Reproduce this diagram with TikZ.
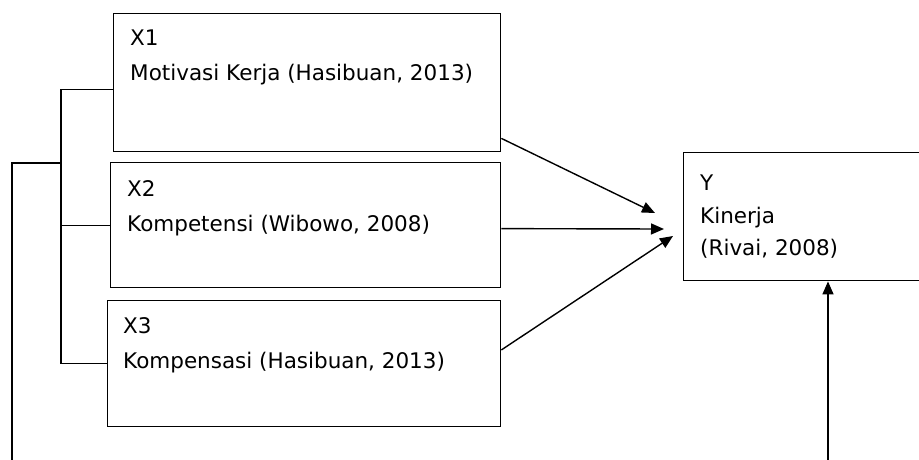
\documentclass[tikz,border=0pt]{standalone}
\usepackage{fontspec}
\setmainfont{DejaVu Sans}
\usetikzlibrary{arrows.meta}
\begin{document}
\begin{tikzpicture}[x=1pt,y=-1pt,
  box/.style={draw,line width=1.4pt,inner sep=0pt,anchor=north west},
  lbl/.style={anchor=north west,align=left,inner sep=0pt,
    font=\fontsize{21.5}{35}\selectfont},
  link/.style={line width=1.4pt},
  arr/.style={line width=1.4pt,-{Triangle[length=13pt,width=11pt]}}]
  \useasboundingbox (0,0) rectangle (919,459);
  % variable boxes
  \node [box,minimum width=387pt,minimum height=138pt] (x1) at (113,13) {};
  \node [box,minimum width=390pt,minimum height=125pt] (x2) at (110,162) {};
  \node [box,minimum width=393pt,minimum height=126pt] (x3) at (107,300) {};
  \node [box,minimum width=247pt,minimum height=128pt] (y)  at (683,152) {};
  \node [lbl] (x1t) at (130,30)  {X1\\Motivasi Kerja (Hasibuan, 2013)};
  \node [lbl] (x2t) at (127,180) {X2\\Kompetensi (Wibowo, 2008)};
  \node [lbl] (x3t) at (123,317) {X3\\Kompensasi (Hasibuan, 2013)};
  \node [lbl,font=\fontsize{21.5}{32.5}\selectfont] (yt) at (700,175)
    {Y\\Kinerja\\(Rivai, 2008)};
  % ends of the lines
  \coordinate (br) at (61,0);
  \coordinate (bj) at (61,163);
  \coordinate (ob) at (12,470);
  \coordinate (yb) at (828,470);
  \coordinate (h1) at (655,213);
  \coordinate (h2) at (664,229);
  \coordinate (h3) at (673,236);
  % bracket on the left
  \draw [link] (x1.182) -- (x1.182 -| br) -- (x3.west -| br) -- (x3.west);
  \draw [link] (x2.west) -- (x2.west -| br);
  \draw [link] (bj) -| (ob);
  % arrows to Y
  \draw [arr] (x1.-16) -- (h1);
  \draw [arr] (x2.-1) -- (h2);
  \draw [arr] (x3.4) -- (h3);
  \draw [arr] (yb) -- (yb |- y.south);
\end{tikzpicture}
\end{document}
